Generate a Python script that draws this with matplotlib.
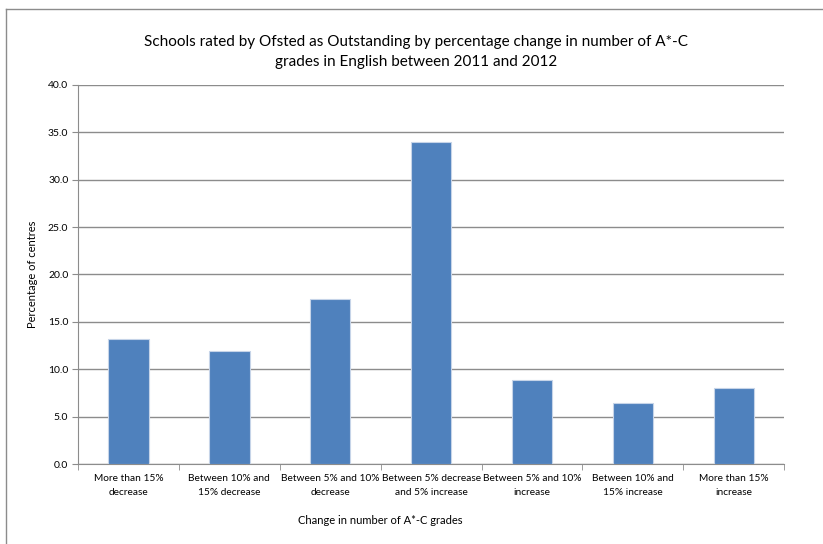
import matplotlib.pyplot as plt
import numpy as np

categories = ["More than 15%\ndecrease", "Between 10% and\n15% decrease", "Between 5% and 10%\ndecrease",
              "Between 5% decrease\nand 5% increase", "Between 5% and 10%\nincrease",
              "Between 10% and\n15% increase", "More than 15%\nincrease"]
values = [13.2, 11.9, 17.4, 34.0, 8.9, 6.4, 8.0]
yticks = [0, 5, 10, 15, 20, 25, 30, 35, 40]

plt.rcParams['font.family'] = ['Lato', 'DejaVu Sans']

fig = plt.figure(figsize=(8.23, 5.44), dpi=100)
ax = fig.add_axes([0.0948, 0.147, 0.858, 0.697])

x = np.arange(len(categories))
ax.bar(x, values, width=0.4, color='#4F81BD', edgecolor='#C6D4E8', linewidth=0.8, zorder=3)

ax.set_xlim(-0.5, len(categories) - 0.5)
ax.set_ylim(0, 40)
ax.set_yticks(yticks)
ax.set_yticklabels([f"{v:.1f}" for v in yticks], fontsize=7.5)
ax.yaxis.grid(True, color='#8C8C8C', linewidth=1, zorder=0)

ax.set_xticks(x)
ax.set_xticklabels(categories, fontsize=7.3, linespacing=1.7)
ax.set_xticks(np.arange(len(categories) + 1) - 0.5, minor=True)
ax.tick_params(axis='x', which='major', length=0, pad=7)
ax.tick_params(axis='x', which='minor', length=4, color='#8C8C8C')
ax.tick_params(axis='y', length=4, color='#8C8C8C', pad=3)

for s in ['top', 'right']:
    ax.spines[s].set_visible(False)
ax.spines['left'].set_color('#8C8C8C')
ax.spines['bottom'].set_color('#8C8C8C')

ax.set_ylabel('Percentage of centres', fontsize=8)
ax.yaxis.set_label_coords(-0.057, 0.5)

fig.text(416 / 823, 1 - 52 / 544,
         "Schools rated by Ofsted as Outstanding by percentage change in number of A*-C\ngrades in English between 2011 and 2012",
         ha='center', va='center', fontsize=11, linespacing=1.5)
fig.text(380 / 823, 1 - 521 / 544, "Change in number of A*-C grades", ha='center', va='center', fontsize=8)

# chart frame
fig.add_artist(plt.Line2D([6 / 823, 1], [1 - 9 / 544, 1 - 9 / 544], color='#8C8C8C', linewidth=1))
fig.add_artist(plt.Line2D([6 / 823, 6 / 823], [0, 1 - 9 / 544], color='#8C8C8C', linewidth=1))

fig.savefig('out.png', dpi=100)
